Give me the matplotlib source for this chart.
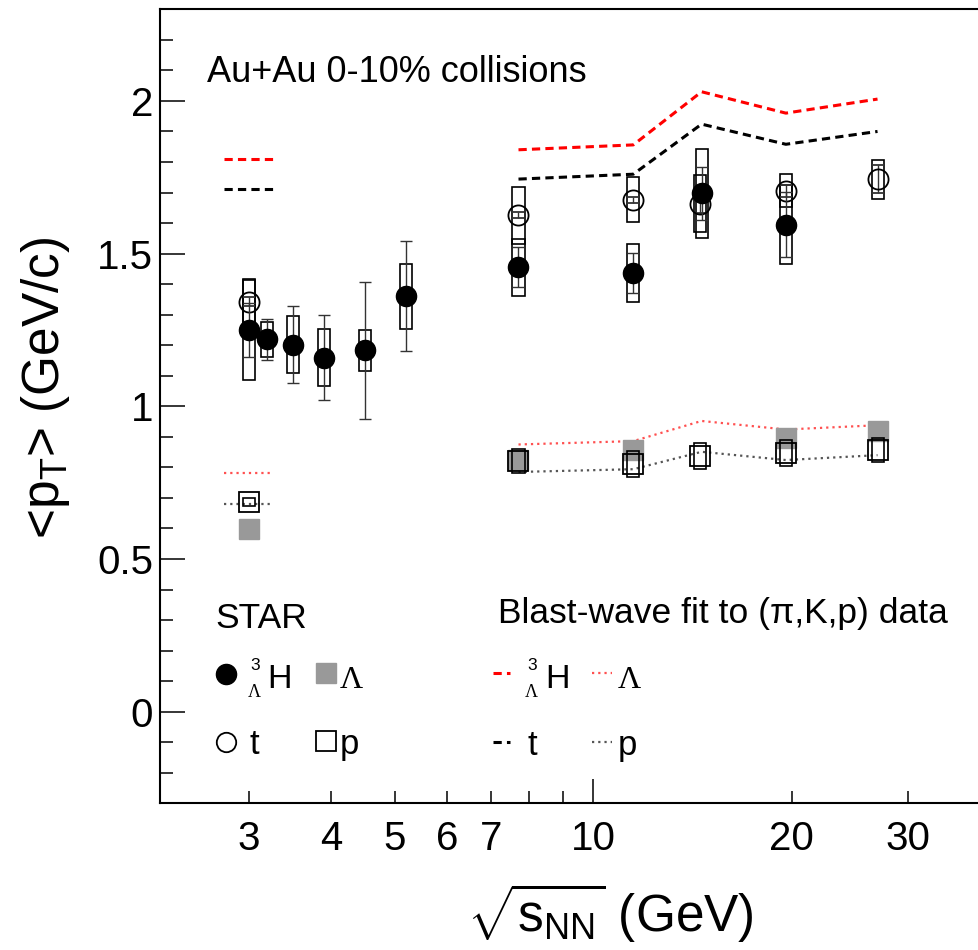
import numpy as np
import matplotlib.pyplot as plt
from matplotlib.lines import Line2D
from matplotlib.patches import Rectangle
from matplotlib.ticker import FixedLocator, FixedFormatter, MultipleLocator, FuncFormatter

plt.rcParams['font.family'] = ['Liberation Sans', 'DejaVu Sans']
plt.rcParams['mathtext.fontset'] = 'custom'
plt.rcParams['mathtext.rm'] = 'Liberation Sans'
plt.rcParams['mathtext.it'] = 'Liberation Sans:italic'

# STAR Au+Au 0-10%, <pT> (GeV/c)
h3l_e = [3.0, 3.2, 3.5, 3.9, 4.5, 5.2, 7.7, 11.5, 14.6, 19.6]
h3l_pt = [1.251, 1.219, 1.202, 1.159, 1.183, 1.360, 1.455, 1.437, 1.697, 1.595]
h3l_stat = [0.088, 0.068, 0.127, 0.140, 0.225, 0.180, 0.065, 0.065, 0.087, 0.106]
h3l_sys = [0.165, 0.056, 0.094, 0.094, 0.068, 0.106, 0.093, 0.096, 0.145, 0.130]

t_e = [3.0, 7.7, 11.5, 14.5, 19.6, 27.0]
t_pt = [1.343, 1.625, 1.677, 1.664, 1.706, 1.744]
t_stat = [0.015, 0.010, 0.010, 0.030, 0.020, 0.046]
t_sys = [0.070, 0.094, 0.074, 0.092, 0.055, 0.064]

lam_e = [3.0, 7.7, 11.5, 19.6, 27.0]
lam_pt = [0.597, 0.824, 0.856, 0.896, 0.919]

p_e = [3.0, 7.7, 11.5, 14.5, 19.6, 27.0]
p_pt = [0.687, 0.821, 0.810, 0.837, 0.847, 0.857]
p_sys = [0.013, 0.040, 0.042, 0.042, 0.042, 0.040]

# blast-wave fit to (pi,K,p)
bw_e = [7.7, 11.5, 14.6, 19.6, 27.0]
bw_h3l = [1.840, 1.856, 2.030, 1.960, 2.006]
bw_t = [1.744, 1.760, 1.924, 1.858, 1.900]
bw_lam = [0.875, 0.886, 0.952, 0.924, 0.938]
bw_p = [0.785, 0.794, 0.851, 0.824, 0.840]

bw3_e = 3.0
bw3_h3l = 1.811
bw3_t = 1.711
bw3_lam = 0.782
bw3_p = 0.680

W, H = 979, 950
fig = plt.figure(figsize=(W / 100, H / 100), dpi=100)
ax = fig.add_axes([160 / W, 1 - 803.3 / H, 830 / W, 794 / H])
ax.set_xscale('log')
ax.set_xlim(2.2, 40)
ax.set_ylim(-0.3, 2.3)

for side in ['left', 'bottom', 'top']:
    ax.spines[side].set_linewidth(1.5)
ax.spines['right'].set_visible(False)

ax.xaxis.set_major_locator(FixedLocator([10]))
ax.xaxis.set_major_formatter(FixedFormatter(['10']))
ax.xaxis.set_minor_locator(FixedLocator([3, 4, 5, 6, 7, 8, 9, 20, 30]))
ax.xaxis.set_minor_formatter(FixedFormatter(['3', '4', '5', '6', '7', '', '', '20', '30']))
ax.tick_params(axis='x', which='major', direction='in', length=17, width=1.1, labelsize=29, pad=12)
ax.tick_params(axis='x', which='minor', direction='in', length=8.5, width=1.1, labelsize=29, pad=12)

ax.yaxis.set_major_locator(MultipleLocator(0.5))
ax.yaxis.set_minor_locator(MultipleLocator(0.1))
ax.yaxis.set_major_formatter(FuncFormatter(lambda v, _: '%g' % v))
ax.tick_params(axis='y', which='major', direction='in', length=18, width=1.1, labelsize=29, pad=5)
ax.tick_params(axis='y', which='minor', direction='in', length=9.5, width=1.1)
ax.tick_params(right=False, top=False, which='both')

# blast-wave curves
dash = (0, (2.7, 1.7))
dot = (0, (1, 1.8))
red_dot = '#ff5050'
gray_dot = '#555555'
ax.plot(bw_e, bw_h3l, color='red', lw=2.2, ls=dash)
ax.plot(bw_e, bw_t, color='black', lw=2.2, ls=dash)
ax.plot(bw_e, bw_lam, color=red_dot, lw=1.6, ls=dot)
ax.plot(bw_e, bw_p, color=gray_dot, lw=1.6, ls=dot)
seg = [bw3_e / 1.09, bw3_e * 1.09]
ax.plot(seg, [bw3_h3l] * 2, color='red', lw=2.2, ls=dash)
ax.plot(seg, [bw3_t] * 2, color='black', lw=2.2, ls=dash)
ax.plot(seg, [bw3_lam] * 2, color=red_dot, lw=1.6, ls=dot)
ax.plot(seg, [bw3_p] * 2, color=gray_dot, lw=1.6, ls=dot)

# systematic boxes, fixed pixel width on log axis
f = 10 ** (6 / 657.7)


def sys_boxes(e, v, s):
    for ei, vi, si in zip(e, v, s):
        ax.add_patch(Rectangle((ei / f, vi - si), ei * f - ei / f, 2 * si,
                               fill=False, ec='black', lw=1.2, zorder=3))


ax.plot(lam_e, lam_pt, ls='none', marker='s', ms=15, mfc='#999999', mec='#999999', zorder=2)
sys_boxes(p_e, p_pt, p_sys)
ax.plot(p_e, p_pt, ls='none', marker='s', ms=14, mfc='none', mec='black', mew=1.3, zorder=4)

sys_boxes(h3l_e, h3l_pt, h3l_sys)
sys_boxes(t_e, t_pt, t_sys)
ax.errorbar(t_e, t_pt, yerr=t_stat, fmt='o', ms=14.5, mfc='none', mec='black', mew=1.3,
            ecolor='#333333', elinewidth=1.0, capsize=4, capthick=1.0, zorder=5)
ax.errorbar(h3l_e, h3l_pt, yerr=h3l_stat, fmt='o', ms=14.5, mfc='black', mec='black',
            ecolor='#333333', elinewidth=1.0, capsize=4, capthick=1.0, zorder=6)


def px(x, y):
    return x / W, 1 - y / H


def label(x, y, s, size=24, **kw):
    fig.text(*px(x, y), s, fontsize=size, ha='left', va='baseline', **kw)


def sample(x, y, **kw):
    fx, fy = zip(*[px(xi, yi) for xi, yi in zip(x, y)])
    fig.add_artist(Line2D(fx, fy, transform=fig.transFigure, **kw))


label(207, 82, 'Au+Au 0-10% collisions', size=26)
label(215, 628, 'STAR', size=25.5)
label(498, 623, 'Blast-wave fit to (\u03c0,K,p) data', size=25.5)

# STAR legend
sample([225.7], [673.7], marker='o', ms=14.5, mfc='black', mec='black', ls='none')
sample([325.7], [673], marker='s', ms=15, mfc='#999999', mec='#999999', ls='none')
sample([225.7], [742], marker='o', ms=14, mfc='none', mec='black', mew=1.3, ls='none')
sample([325.7], [740.5], marker='s', ms=14.5, mfc='none', mec='black', mew=1.3, ls='none')
for x0, x1 in [(250, 267), (527, 545)]:
    label(x0, 670, '3', size=12.5)
    label(x0 - 2, 697, '\u039b', size=13, family='Liberation Serif')
    label(x1, 688, 'H', size=24.5)
label(340, 688, '\u039b', size=23, family='Liberation Serif')
label(250, 754, 't', size=25)
label(340, 754, 'p', size=25)

# blast-wave legend
sample([493, 510], [673, 673], color='red', lw=2.2, ls=dash)
sample([592, 612], [673, 673], color=red_dot, lw=1.6, ls=dot)
sample([493, 510], [742, 742], color='black', lw=2.2, ls=dash)
sample([592, 612], [742, 742], color=gray_dot, lw=1.6, ls=dot)
label(618, 688, '\u039b', size=23, family='Liberation Serif')
label(528, 755, 't', size=25)
label(618, 755, 'p', size=25)

fig.text(*px(46, 388), r'<p$_\mathregular{T}$> (GeV/c)', fontsize=37, rotation=90,
         ha='center', va='center')
fig.text(*px(610, 913), r'$\sqrt{\mathregular{s_{NN}}}$ (GeV)', fontsize=37,
         ha='center', va='center')

fig.savefig('out.png', dpi=100)
